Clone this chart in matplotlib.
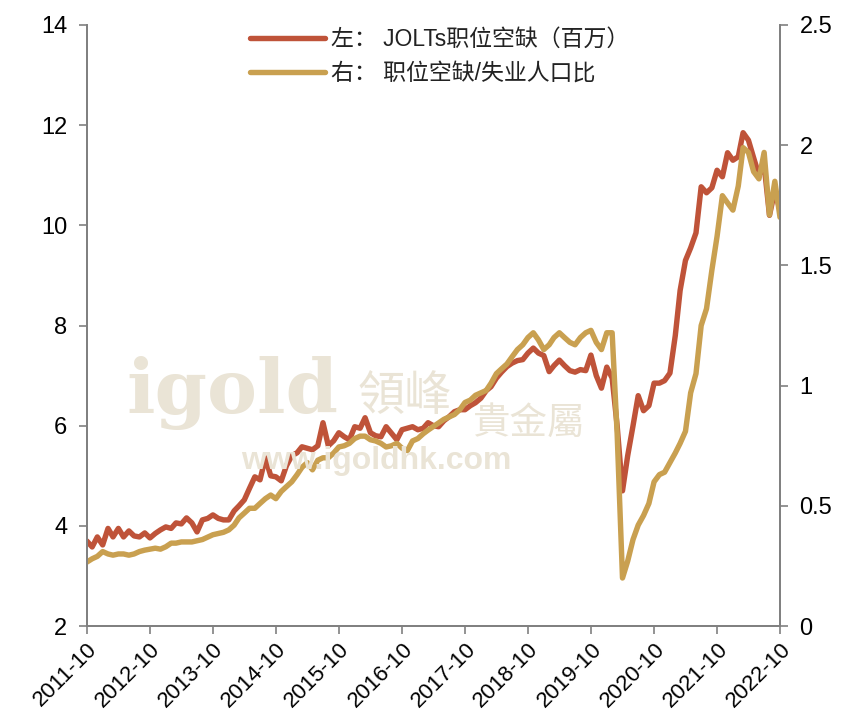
import matplotlib
matplotlib.use("Agg")
import matplotlib.pyplot as plt
import matplotlib.dates as mdates
import numpy as np
import pandas as pd

# monthly, 2011-10 .. 2022-10
months = pd.date_range("2011-10-01", "2022-10-01", freq="MS")

# JOLTS job openings (millions), left axis
openings = [
    3.70, 3.58, 3.78,                                                  # 2011 Oct-Dec
    3.62, 3.95, 3.78, 3.95, 3.78, 3.90, 3.80, 3.78, 3.86, 3.76, 3.85, 3.92,  # 2012
    3.98, 3.95, 4.06, 4.04, 4.16, 4.06, 3.88, 4.12, 4.15, 4.22, 4.15, 4.12,  # 2013
    4.12, 4.30, 4.40, 4.52, 4.75, 4.98, 4.92, 5.36, 5.00, 4.98, 4.90, 5.20,  # 2014
    5.40, 5.46, 5.58, 5.55, 5.52, 5.60, 6.06, 5.60, 5.70, 5.86, 5.78, 5.72,  # 2015
    5.98, 5.95, 6.16, 5.86, 5.80, 5.78, 5.98, 5.85, 5.72, 5.92, 5.95, 5.98,  # 2016
    5.92, 5.95, 6.06, 6.00, 5.98, 6.10, 6.18, 6.28, 6.32, 6.32, 6.40, 6.46,  # 2017
    6.55, 6.70, 6.78, 6.95, 7.07, 7.18, 7.25, 7.30, 7.32, 7.45, 7.55, 7.45,  # 2018
    7.40, 7.08, 7.20, 7.31, 7.20, 7.10, 7.07, 7.12, 7.10, 7.41, 7.00, 6.75,  # 2019
    7.17, 6.95, 6.00, 4.70, 5.40, 6.00, 6.60, 6.30, 6.40, 6.85, 6.85, 6.90,  # 2020
    7.05, 7.80, 8.70, 9.30, 9.55, 9.85, 10.77, 10.65, 10.75, 11.10, 10.97, 11.45,  # 2021
    11.30, 11.37, 11.85, 11.70, 11.35, 11.00, 11.20, 10.20, 10.70, 10.30,  # 2022 Jan-Oct
]

# job openings / unemployed ratio, right axis
ratio = [
    0.266, 0.28, 0.29,
    0.31, 0.30, 0.295, 0.30, 0.30, 0.295, 0.30, 0.31, 0.316, 0.32, 0.324, 0.32,
    0.33, 0.345, 0.345, 0.35, 0.35, 0.35, 0.355, 0.36, 0.37, 0.38, 0.385, 0.39,
    0.40, 0.42, 0.45, 0.47, 0.49, 0.49, 0.51, 0.53, 0.545, 0.53, 0.56, 0.58,
    0.60, 0.63, 0.66, 0.68, 0.65, 0.69, 0.70, 0.70, 0.72, 0.745, 0.75, 0.76,
    0.78, 0.79, 0.79, 0.775, 0.77, 0.76, 0.745, 0.75, 0.76, 0.74, 0.73, 0.77,
    0.78, 0.80, 0.815, 0.83, 0.845, 0.86, 0.87, 0.88, 0.90, 0.93, 0.94, 0.96,
    0.97, 0.98, 1.01, 1.05, 1.07, 1.09, 1.12, 1.15, 1.17, 1.20, 1.22, 1.19,
    1.15, 1.17, 1.20, 1.22, 1.20, 1.18, 1.17, 1.20, 1.22, 1.23, 1.18, 1.15,
    1.22, 1.22, 0.80, 0.20, 0.27, 0.36, 0.42, 0.46, 0.51, 0.60, 0.63, 0.64,
    0.68, 0.72, 0.76, 0.81, 0.97, 1.05, 1.25, 1.32, 1.48, 1.62, 1.79, 1.76,
    1.73, 1.83, 1.99, 1.97, 1.89, 1.86, 1.97, 1.71, 1.85, 1.70,
]

label_left = "左： JOLTs职位空缺（百万）"
label_right = "右： 职位空缺/失业人口比"

RED = "#BF5339"
GOLD = "#C9A050"
AXIS = "#808080"
WM = "#EAE4D6"

plt.rcParams["font.family"] = ["Liberation Sans", "Noto Sans CJK SC", "DejaVu Sans"]

fig = plt.figure(figsize=(8.46, 7.18), dpi=100)
ax = fig.add_axes([0.1026, 0.128, 0.8194, 0.8372])
ax2 = ax.twinx()

# faint watermark
fig.text(0.275, 0.452, "igold", fontsize=54, fontweight="bold", family="DejaVu Serif",
         color=WM, ha="center", va="center", zorder=0)
fig.text(0.478, 0.447, "領峰", fontsize=34, family="Noto Sans CJK TC",
         color=WM, ha="center", va="center", zorder=0)
fig.text(0.625, 0.410, "貴金屬", fontsize=27, family="Noto Sans CJK TC",
         color=WM, ha="center", va="center", zorder=0)
fig.text(0.445, 0.358, "www.igoldhk.com", fontsize=23, fontweight="bold",
         color=WM, ha="center", va="center", zorder=0)
ax.patch.set_alpha(0)
ax2.patch.set_alpha(0)

l1, = ax.plot(months, openings, color=RED, lw=3.9, solid_capstyle="round",
              solid_joinstyle="round", label=label_left)
l2, = ax2.plot(months, ratio, color=GOLD, lw=3.9, solid_capstyle="round",
               solid_joinstyle="round", label=label_right)

ax.set_ylim(2, 14)
ax.set_yticks([2, 4, 6, 8, 10, 12, 14])
ax2.set_ylim(0, 2.5)
ax2.set_yticks([0, 0.5, 1, 1.5, 2, 2.5])
ax2.set_yticklabels(["0", "0.5", "1", "1.5", "2", "2.5"])

ax.set_xlim(months[0], months[-1])
ax.xaxis.set_major_locator(mdates.MonthLocator(bymonth=10))
ax.xaxis.set_major_formatter(mdates.DateFormatter("%Y-%m"))

for a in (ax, ax2):
    a.spines["top"].set_visible(False)
    for s in ("left", "right", "bottom"):
        a.spines[s].set_color(AXIS)
        a.spines[s].set_linewidth(1.3)
    a.tick_params(colors=AXIS, labelcolor="black", labelsize=17, length=6, width=1.2)
ax.tick_params(axis="x", labelsize=16, pad=3)
ax.tick_params(axis="y", pad=8)
ax2.tick_params(axis="y", pad=8)

for lbl in ax.get_xticklabels():
    lbl.set_rotation(45)
    lbl.set_ha("right")
    lbl.set_rotation_mode("anchor")

leg = ax2.legend(handles=[l1, l2], loc="upper left", bbox_to_anchor=(0.205, 1.03),
                 frameon=False, fontsize=16.5, handlelength=3.3, handletextpad=0.25,
                 labelspacing=0.5)
for t in leg.get_texts():
    t.set_color("#222222")

fig.savefig("out.png", dpi=100)
